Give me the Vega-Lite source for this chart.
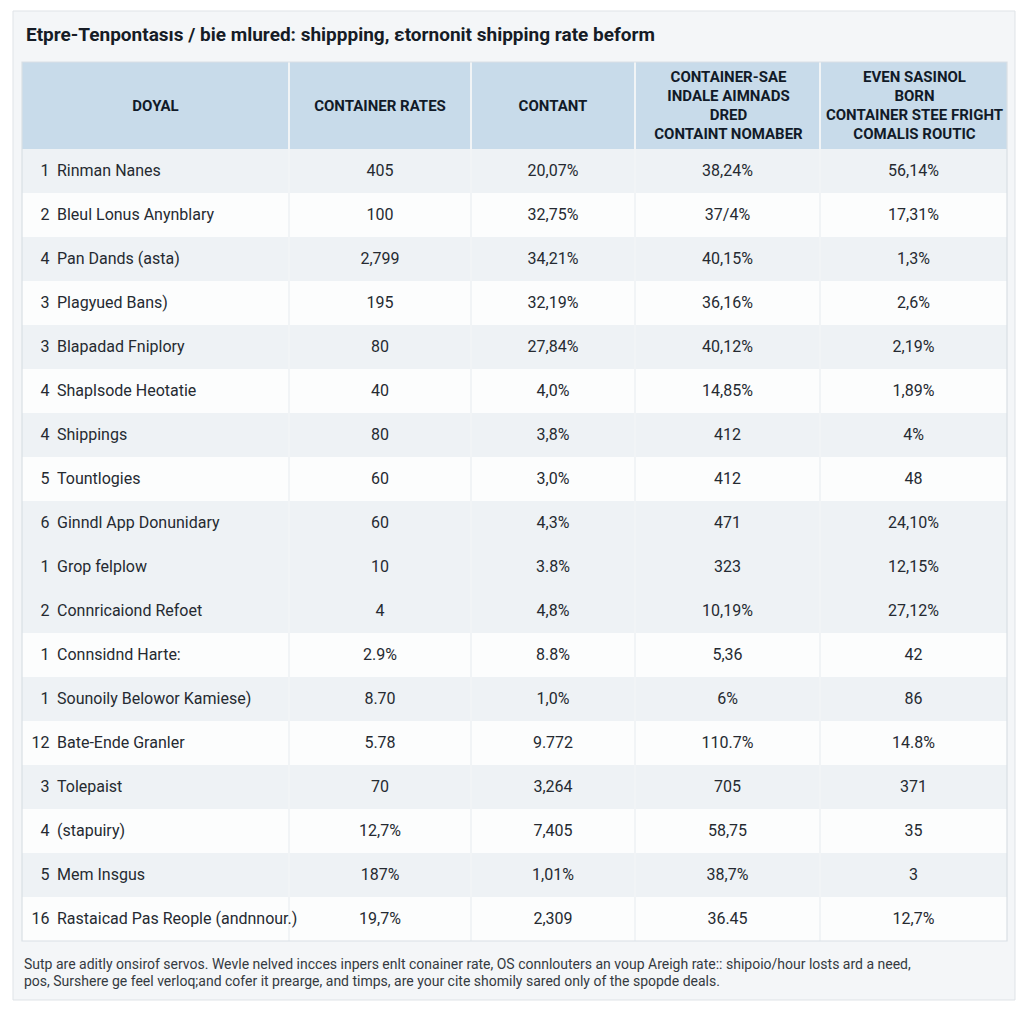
{
  "$schema": "https://vega.github.io/schema/vega-lite/v6.json",
  "width": 1024,
  "height": 1024,
  "autosize": {"type": "fit", "contains": "padding"},
  "padding": 0,
  "background": "#ffffff",
  "config": {"view": {"stroke": null}, "text": {"font": "Roboto, sans-serif"}},
  "datasets": {
    "header": [
      {"col": 1, "text": "DOYAL"},
      {"col": 2, "text": "CONTAINER RATES"},
      {"col": 3, "text": "CONTANT"},
      {"col": 4, "text": "CONTAINER-SAE\nINDALE AIMNADS\nDRED\nCONTAINT NOMABER"},
      {"col": 5, "text": "EVEN SASINOL\nBORN\nCONTAINER STEE FRIGHT\nCOMALIS ROUTIC"}
    ],
    "body": [
      {"row": 1, "col": 1, "rank": "1", "text": "Rinman Nanes"},
      {"row": 1, "col": 2, "text": "405"},
      {"row": 1, "col": 3, "text": "20,07%"},
      {"row": 1, "col": 4, "text": "38,24%"},
      {"row": 1, "col": 5, "text": "56,14%"},
      {"row": 2, "col": 1, "rank": "2", "text": "Bleul Lonus Anynblary"},
      {"row": 2, "col": 2, "text": "100"},
      {"row": 2, "col": 3, "text": "32,75%"},
      {"row": 2, "col": 4, "text": "37/4%"},
      {"row": 2, "col": 5, "text": "17,31%"},
      {"row": 3, "col": 1, "rank": "4", "text": "Pan Dands (asta)"},
      {"row": 3, "col": 2, "text": "2,799"},
      {"row": 3, "col": 3, "text": "34,21%"},
      {"row": 3, "col": 4, "text": "40,15%"},
      {"row": 3, "col": 5, "text": "1,3%"},
      {"row": 4, "col": 1, "rank": "3", "text": "Plagyued Bans)"},
      {"row": 4, "col": 2, "text": "195"},
      {"row": 4, "col": 3, "text": "32,19%"},
      {"row": 4, "col": 4, "text": "36,16%"},
      {"row": 4, "col": 5, "text": "2,6%"},
      {"row": 5, "col": 1, "rank": "3", "text": "Blapadad Fniplory"},
      {"row": 5, "col": 2, "text": "80"},
      {"row": 5, "col": 3, "text": "27,84%"},
      {"row": 5, "col": 4, "text": "40,12%"},
      {"row": 5, "col": 5, "text": "2,19%"},
      {"row": 6, "col": 1, "rank": "4", "text": "Shaplsode Heotatie"},
      {"row": 6, "col": 2, "text": "40"},
      {"row": 6, "col": 3, "text": "4,0%"},
      {"row": 6, "col": 4, "text": "14,85%"},
      {"row": 6, "col": 5, "text": "1,89%"},
      {"row": 7, "col": 1, "rank": "4", "text": "Shippings"},
      {"row": 7, "col": 2, "text": "80"},
      {"row": 7, "col": 3, "text": "3,8%"},
      {"row": 7, "col": 4, "text": "412"},
      {"row": 7, "col": 5, "text": "4%"},
      {"row": 8, "col": 1, "rank": "5", "text": "Tountlogies"},
      {"row": 8, "col": 2, "text": "60"},
      {"row": 8, "col": 3, "text": "3,0%"},
      {"row": 8, "col": 4, "text": "412"},
      {"row": 8, "col": 5, "text": "48"},
      {"row": 9, "col": 1, "rank": "6", "text": "Ginndl App Donunidary"},
      {"row": 9, "col": 2, "text": "60"},
      {"row": 9, "col": 3, "text": "4,3%"},
      {"row": 9, "col": 4, "text": "471"},
      {"row": 9, "col": 5, "text": "24,10%"},
      {"row": 10, "col": 1, "rank": "1", "text": "Grop felplow"},
      {"row": 10, "col": 2, "text": "10"},
      {"row": 10, "col": 3, "text": "3.8%"},
      {"row": 10, "col": 4, "text": "323"},
      {"row": 10, "col": 5, "text": "12,15%"},
      {"row": 11, "col": 1, "rank": "2", "text": "Connricaiond Refoet"},
      {"row": 11, "col": 2, "text": "4"},
      {"row": 11, "col": 3, "text": "4,8%"},
      {"row": 11, "col": 4, "text": "10,19%"},
      {"row": 11, "col": 5, "text": "27,12%"},
      {"row": 12, "col": 1, "rank": "1", "text": "Connsidnd Harte:"},
      {"row": 12, "col": 2, "text": "2.9%"},
      {"row": 12, "col": 3, "text": "8.8%"},
      {"row": 12, "col": 4, "text": "5,36"},
      {"row": 12, "col": 5, "text": "42"},
      {"row": 13, "col": 1, "rank": "1", "text": "Sounoily Belowor Kamiese)"},
      {"row": 13, "col": 2, "text": "8.70"},
      {"row": 13, "col": 3, "text": "1,0%"},
      {"row": 13, "col": 4, "text": "6%"},
      {"row": 13, "col": 5, "text": "86"},
      {"row": 14, "col": 1, "rank": "12", "text": "Bate-Ende Granler"},
      {"row": 14, "col": 2, "text": "5.78"},
      {"row": 14, "col": 3, "text": "9.772"},
      {"row": 14, "col": 4, "text": "110.7%"},
      {"row": 14, "col": 5, "text": "14.8%"},
      {"row": 15, "col": 1, "rank": "3", "text": "Tolepaist"},
      {"row": 15, "col": 2, "text": "70"},
      {"row": 15, "col": 3, "text": "3,264"},
      {"row": 15, "col": 4, "text": "705"},
      {"row": 15, "col": 5, "text": "371"},
      {"row": 16, "col": 1, "rank": "4", "text": "(stapuiry)"},
      {"row": 16, "col": 2, "text": "12,7%"},
      {"row": 16, "col": 3, "text": "7,405"},
      {"row": 16, "col": 4, "text": "58,75"},
      {"row": 16, "col": 5, "text": "35"},
      {"row": 17, "col": 1, "rank": "5", "text": "Mem Insgus"},
      {"row": 17, "col": 2, "text": "187%"},
      {"row": 17, "col": 3, "text": "1,01%"},
      {"row": 17, "col": 4, "text": "38,7%"},
      {"row": 17, "col": 5, "text": "3"},
      {"row": 18, "col": 1, "rank": "16", "text": "Rastaicad Pas Reople (andnnour.)"},
      {"row": 18, "col": 2, "text": "19,7%"},
      {"row": 18, "col": 3, "text": "2,309"},
      {"row": 18, "col": 4, "text": "36.45"},
      {"row": 18, "col": 5, "text": "12,7%"}
    ]
  },
  "layer": [
    {
      "data": {"values": [{}]},
      "mark": {"type": "rect", "fill": "#f4f6f8", "stroke": "#dfe3e7", "strokeWidth": 1},
      "encoding": {
        "x": {"datum": 0.45, "type": "quantitative", "axis": null, "scale": {"type": "linear", "domain": [0.45, 0.5, 1.5, 2.5, 3.5, 4.5, 5.5, 5.55], "range": [13, 22, 289, 471, 635, 820, 1007, 1015], "nice": false, "zero": false}},
        "x2": {"datum": 5.55},
        "y": {"datum": -1.5, "type": "quantitative", "axis": null, "scale": {"type": "linear", "domain": [-1.5, -1, -0.5, 0.5, 18.5, 19, 19.5], "range": [11, 35, 62, 149, 941, 973, 1000], "nice": false, "zero": false}},
        "y2": {"datum": 19.5}
      }
    },
    {
      "data": {"values": [{}]},
      "mark": {"type": "rect", "fill": "#fcfdfd"},
      "encoding": {
        "x": {"datum": 0.5, "type": "quantitative", "axis": null, "scale": {"type": "linear", "domain": [0.45, 0.5, 1.5, 2.5, 3.5, 4.5, 5.5, 5.55], "range": [13, 22, 289, 471, 635, 820, 1007, 1015], "nice": false, "zero": false}},
        "x2": {"datum": 5.5},
        "y": {"datum": 0.5, "type": "quantitative", "axis": null, "scale": {"type": "linear", "domain": [-1.5, -1, -0.5, 0.5, 18.5, 19, 19.5], "range": [11, 35, 62, 149, 941, 973, 1000], "nice": false, "zero": false}},
        "y2": {"datum": 18.5}
      }
    },
    {
      "data": {"name": "body"},
      "transform": [{"filter": "datum.col == 1 && (datum.row % 2 == 1 || datum.row == 10)"}],
      "mark": {"type": "rule", "stroke": "#eef2f5", "strokeWidth": 44, "strokeCap": "butt"},
      "encoding": {
        "x": {"datum": 0.5, "type": "quantitative", "axis": null, "scale": {"type": "linear", "domain": [0.45, 0.5, 1.5, 2.5, 3.5, 4.5, 5.5, 5.55], "range": [13, 22, 289, 471, 635, 820, 1007, 1015], "nice": false, "zero": false}},
        "x2": {"datum": 5.5},
        "y": {"field": "row", "type": "quantitative", "axis": null, "scale": {"type": "linear", "domain": [-1.5, -1, -0.5, 0.5, 18.5, 19, 19.5], "range": [11, 35, 62, 149, 941, 973, 1000], "nice": false, "zero": false}}
      }
    },
    {
      "data": {"values": [{}]},
      "mark": {"type": "rect", "fill": "#c8dbea"},
      "encoding": {
        "x": {"datum": 0.5, "type": "quantitative", "axis": null, "scale": {"type": "linear", "domain": [0.45, 0.5, 1.5, 2.5, 3.5, 4.5, 5.5, 5.55], "range": [13, 22, 289, 471, 635, 820, 1007, 1015], "nice": false, "zero": false}},
        "x2": {"datum": 5.5},
        "y": {"datum": -0.5, "type": "quantitative", "axis": null, "scale": {"type": "linear", "domain": [-1.5, -1, -0.5, 0.5, 18.5, 19, 19.5], "range": [11, 35, 62, 149, 941, 973, 1000], "nice": false, "zero": false}},
        "y2": {"datum": 0.5}
      }
    },
    {
      "data": {"values": [{"b": 1.5}, {"b": 2.5}, {"b": 3.5}, {"b": 4.5}]},
      "mark": {"type": "rule", "stroke": "#f1f4f6", "strokeWidth": 2},
      "encoding": {
        "x": {"field": "b", "type": "quantitative", "axis": null, "scale": {"type": "linear", "domain": [0.45, 0.5, 1.5, 2.5, 3.5, 4.5, 5.5, 5.55], "range": [13, 22, 289, 471, 635, 820, 1007, 1015], "nice": false, "zero": false}},
        "y": {"datum": -0.5, "type": "quantitative", "axis": null, "scale": {"type": "linear", "domain": [-1.5, -1, -0.5, 0.5, 18.5, 19, 19.5], "range": [11, 35, 62, 149, 941, 973, 1000], "nice": false, "zero": false}},
        "y2": {"datum": 18.5}
      }
    },
    {
      "data": {"values": [{}]},
      "mark": {"type": "rect", "fill": null, "stroke": "#d9dfe5", "strokeWidth": 1.2},
      "encoding": {
        "x": {"datum": 0.5, "type": "quantitative", "axis": null, "scale": {"type": "linear", "domain": [0.45, 0.5, 1.5, 2.5, 3.5, 4.5, 5.5, 5.55], "range": [13, 22, 289, 471, 635, 820, 1007, 1015], "nice": false, "zero": false}},
        "x2": {"datum": 5.5},
        "y": {"datum": -0.5, "type": "quantitative", "axis": null, "scale": {"type": "linear", "domain": [-1.5, -1, -0.5, 0.5, 18.5, 19, 19.5], "range": [11, 35, 62, 149, 941, 973, 1000], "nice": false, "zero": false}},
        "y2": {"datum": 18.5}
      }
    },
    {
      "data": {"name": "header"},
      "transform": [{"filter": "datum.col <= 3"}],
      "mark": {"type": "text", "fontSize": 15, "fontWeight": "bold", "fill": "#111a28", "align": "center", "baseline": "middle"},
      "encoding": {
        "x": {"field": "col", "type": "quantitative", "axis": null, "scale": {"type": "linear", "domain": [0.45, 0.5, 1.5, 2.5, 3.5, 4.5, 5.5, 5.55], "range": [13, 22, 289, 471, 635, 820, 1007, 1015], "nice": false, "zero": false}},
        "y": {"datum": 0, "type": "quantitative", "axis": null, "scale": {"type": "linear", "domain": [-1.5, -1, -0.5, 0.5, 18.5, 19, 19.5], "range": [11, 35, 62, 149, 941, 973, 1000], "nice": false, "zero": false}},
        "text": {"field": "text"}
      }
    },
    {
      "data": {"name": "header"},
      "transform": [{"filter": "datum.col > 3"}],
      "mark": {"type": "text", "fontSize": 15, "fontWeight": "bold", "fill": "#111a28", "align": "center", "baseline": "middle", "lineBreak": "\n", "lineHeight": 19, "dy": -28.5, "dx": 1},
      "encoding": {
        "x": {"field": "col", "type": "quantitative", "axis": null, "scale": {"type": "linear", "domain": [0.45, 0.5, 1.5, 2.5, 3.5, 4.5, 5.5, 5.55], "range": [13, 22, 289, 471, 635, 820, 1007, 1015], "nice": false, "zero": false}},
        "y": {"datum": 0, "type": "quantitative", "axis": null, "scale": {"type": "linear", "domain": [-1.5, -1, -0.5, 0.5, 18.5, 19, 19.5], "range": [11, 35, 62, 149, 941, 973, 1000], "nice": false, "zero": false}},
        "text": {"field": "text"}
      }
    },
    {
      "data": {"name": "body"},
      "transform": [{"filter": "datum.col == 1"}],
      "mark": {"type": "text", "fontSize": 16, "fill": "#252a31", "align": "right", "baseline": "middle", "dx": -106},
      "encoding": {
        "x": {"field": "col", "type": "quantitative", "axis": null, "scale": {"type": "linear", "domain": [0.45, 0.5, 1.5, 2.5, 3.5, 4.5, 5.5, 5.55], "range": [13, 22, 289, 471, 635, 820, 1007, 1015], "nice": false, "zero": false}},
        "y": {"field": "row", "type": "quantitative", "axis": null, "scale": {"type": "linear", "domain": [-1.5, -1, -0.5, 0.5, 18.5, 19, 19.5], "range": [11, 35, 62, 149, 941, 973, 1000], "nice": false, "zero": false}},
        "text": {"field": "rank"}
      }
    },
    {
      "data": {"name": "body"},
      "transform": [{"filter": "datum.col == 1"}],
      "mark": {"type": "text", "fontSize": 16, "fill": "#252a31", "align": "left", "baseline": "middle", "dx": -98.5},
      "encoding": {
        "x": {"field": "col", "type": "quantitative", "axis": null, "scale": {"type": "linear", "domain": [0.45, 0.5, 1.5, 2.5, 3.5, 4.5, 5.5, 5.55], "range": [13, 22, 289, 471, 635, 820, 1007, 1015], "nice": false, "zero": false}},
        "y": {"field": "row", "type": "quantitative", "axis": null, "scale": {"type": "linear", "domain": [-1.5, -1, -0.5, 0.5, 18.5, 19, 19.5], "range": [11, 35, 62, 149, 941, 973, 1000], "nice": false, "zero": false}},
        "text": {"field": "text"}
      }
    },
    {
      "data": {"name": "body"},
      "transform": [{"filter": "datum.col > 1"}],
      "mark": {"type": "text", "fontSize": 16, "fill": "#252a31", "align": "center", "baseline": "middle"},
      "encoding": {
        "x": {"field": "col", "type": "quantitative", "axis": null, "scale": {"type": "linear", "domain": [0.45, 0.5, 1.5, 2.5, 3.5, 4.5, 5.5, 5.55], "range": [13, 22, 289, 471, 635, 820, 1007, 1015], "nice": false, "zero": false}},
        "y": {"field": "row", "type": "quantitative", "axis": null, "scale": {"type": "linear", "domain": [-1.5, -1, -0.5, 0.5, 18.5, 19, 19.5], "range": [11, 35, 62, 149, 941, 973, 1000], "nice": false, "zero": false}},
        "text": {"field": "text"}
      }
    },
    {
      "data": {"values": [{"text": "Etpre-Tenpontasıs / bie mlured: shippping, εtornonit shipping rate beform"}]},
      "mark": {"type": "text", "fontSize": 19, "fontWeight": "bold", "fill": "#161c26", "align": "left", "baseline": "middle", "dx": 4},
      "encoding": {
        "x": {"datum": 0.5, "type": "quantitative", "axis": null, "scale": {"type": "linear", "domain": [0.45, 0.5, 1.5, 2.5, 3.5, 4.5, 5.5, 5.55], "range": [13, 22, 289, 471, 635, 820, 1007, 1015], "nice": false, "zero": false}},
        "y": {"datum": -1, "type": "quantitative", "axis": null, "scale": {"type": "linear", "domain": [-1.5, -1, -0.5, 0.5, 18.5, 19, 19.5], "range": [11, 35, 62, 149, 941, 973, 1000], "nice": false, "zero": false}},
        "text": {"field": "text"}
      }
    },
    {
      "data": {"values": [{"text": "Sutp are aditly onsirof servos. Wevle nelved incces inpers enlt conainer rate, OS connlouters an voup Areigh rate:: shipoio/hour losts ard a need,\npos, Surshere ge feel verloq;and cofer it prearge, and timps, are your cite shomily sared only of the spopde deals."}]},
      "mark": {"type": "text", "fontSize": 14, "fill": "#353a41", "align": "left", "baseline": "middle", "dx": 2, "dy": -8, "lineBreak": "\n", "lineHeight": 17},
      "encoding": {
        "x": {"datum": 0.5, "type": "quantitative", "axis": null, "scale": {"type": "linear", "domain": [0.45, 0.5, 1.5, 2.5, 3.5, 4.5, 5.5, 5.55], "range": [13, 22, 289, 471, 635, 820, 1007, 1015], "nice": false, "zero": false}},
        "y": {"datum": 19, "type": "quantitative", "axis": null, "scale": {"type": "linear", "domain": [-1.5, -1, -0.5, 0.5, 18.5, 19, 19.5], "range": [11, 35, 62, 149, 941, 973, 1000], "nice": false, "zero": false}},
        "text": {"field": "text"}
      }
    }
  ]
}
